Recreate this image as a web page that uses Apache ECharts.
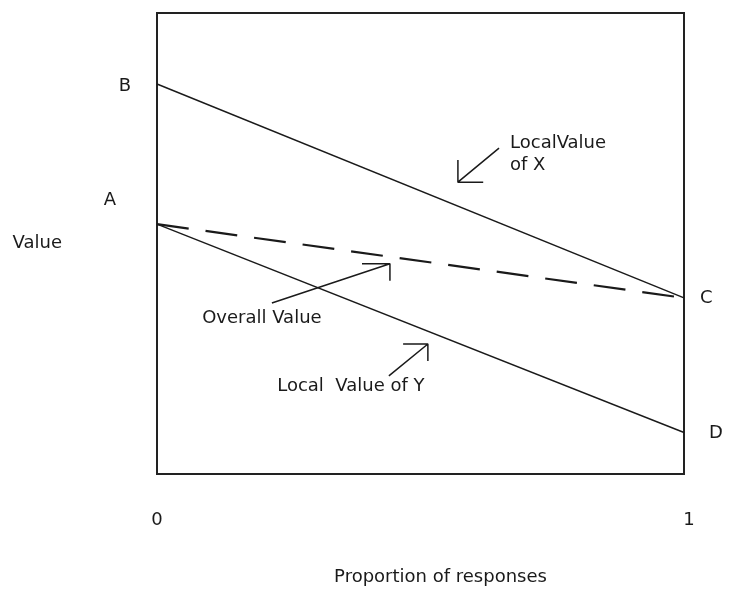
<!DOCTYPE html>
<html>
<head>
<meta charset="utf-8">
<script src="https://cdn.jsdelivr.net/npm/echarts@6/dist/echarts.min.js"></script>
<style>
  html, body { margin: 0; padding: 0; background: #fff; }
  #chart { width: 734px; height: 592px; }
</style>
</head>
<body>
<div id="chart"></div>
<script>
// proportion of responses (x) and value (y, 0-100)
const proportions = [0, 1];
const localValueX = [84.6, 38.2];   // B -> C
const localValueY = [54.2, 9.0];    // A -> D
const overallValue = [54.2, 38.2];  // A -> C
const pointNames = { xStart: "B", xEnd: "C", yStart: "A", yEnd: "D" };

// annotation arrows: shaft [tail, tip], head [side, tip, side]
const arrowXShaft = [[0.649, 70.7], [0.571, 63.3]];
const arrowXHead = [[0.571, 68.1], [0.571, 63.3], [0.619, 63.3]];
const arrowOverallShaft = [[0.218, 37.1], [0.442, 45.6]];
const arrowOverallHead = [[0.389, 45.6], [0.442, 45.6], [0.442, 41.9]];
const arrowYShaft = [[0.44, 21.3], [0.514, 28.2]];
const arrowYHead = [[0.467, 28.2], [0.514, 28.2], [0.514, 24.5]];
const arrowTexts = ["LocalValue\nof X", "Overall Value", "Local  Value of Y"];

const ink = "#1a1a1a";
const font = "DejaVu Sans";
const fontSize = 18;

const chart = echarts.init(document.getElementById("chart"));

function pointLabel(text, position, distance, offset) {
  return { show: true, formatter: text, position, distance, offset, color: ink, fontFamily: font, fontSize };
}

function arrowSeries(shaft, head, label) {
  const data = [
    { value: shaft[0], label },
    shaft[1],
    ["-", "-"],
    ...head
  ];
  return {
    type: "line",
    data,
    clip: false,
    symbol: "circle",
    symbolSize: 0,
    showSymbol: true,
    connectNulls: false,
    lineStyle: { color: ink, width: 1.5 },
    itemStyle: { color: ink },
    label: { show: false },
    silent: true
  };
}

chart.setOption({
  animation: false,
  textStyle: { fontFamily: font },
  grid: {
    left: 157, right: 50, top: 13, bottom: 118,
    show: true, borderColor: "#222", borderWidth: 2, backgroundColor: "#fff"
  },
  xAxis: {
    type: "value",
    min: 0, max: 1, interval: 1,
    name: "Proportion of responses",
    nameLocation: "middle",
    nameGap: 94,
    nameTextStyle: { color: ink, fontFamily: font, fontSize, padding: [0, 0, 0, 40] },
    axisLine: { show: false },
    axisTick: { show: false },
    splitLine: { show: false },
    axisLabel: {
      color: ink, fontFamily: font, fontSize, margin: 37,
      formatter: (v) => (v === 1 ? "{one|1}" : String(v)),
      rich: { one: { color: ink, fontFamily: font, fontSize, padding: [0, 0, 0, 10] } }
    }
  },
  yAxis: {
    type: "value",
    min: 0, max: 100,
    name: "Value",
    nameLocation: "middle",
    nameRotate: 0,
    nameGap: 95,
    nameTextStyle: { color: ink, fontFamily: font, fontSize },
    axisLine: { show: false },
    axisTick: { show: false },
    splitLine: { show: false },
    axisLabel: { show: false }
  },
  series: [
    {
      name: "Local Value of X",
      type: "line",
      clip: false,
      symbol: "circle", symbolSize: 0, showSymbol: true,
      lineStyle: { color: ink, width: 1.4 },
      itemStyle: { color: ink },
      data: [
        { value: [proportions[0], localValueX[0]], label: pointLabel(pointNames.xStart, "left", 26, [0, 2]) },
        { value: [proportions[1], localValueX[1]], label: pointLabel(pointNames.xEnd, "right", 16, [0, 0]) }
      ]
    },
    {
      name: "Local Value of Y",
      type: "line",
      clip: false,
      symbol: "circle", symbolSize: 0, showSymbol: true,
      lineStyle: { color: ink, width: 1.4 },
      itemStyle: { color: ink },
      data: [
        { value: [proportions[0], localValueY[0]], label: pointLabel(pointNames.yStart, "left", 41, [0, -24]) },
        { value: [proportions[1], localValueY[1]], label: pointLabel(pointNames.yEnd, "right", 25, [0, 1]) }
      ]
    },
    {
      name: "Overall Value",
      type: "line",
      clip: false,
      symbol: "none",
      lineStyle: { color: ink, width: 2.2, type: [32, 17] },
      data: proportions.map((p, i) => [p, overallValue[i]])
    },
    arrowSeries(arrowXShaft, arrowXHead,
      { show: true, formatter: arrowTexts[0], position: "right", distance: 11, offset: [0, 6],
        color: ink, fontFamily: font, fontSize, lineHeight: 22, align: "left" }),
    arrowSeries(arrowOverallShaft, arrowOverallHead,
      { show: true, formatter: arrowTexts[1], position: "bottom", distance: 6, offset: [-10, 0],
        color: ink, fontFamily: font, fontSize }),
    arrowSeries(arrowYShaft, arrowYHead,
      { show: true, formatter: arrowTexts[2], position: "bottom", distance: 2, offset: [-38, 0],
        color: ink, fontFamily: font, fontSize })
  ]
});
</script>
</body>
</html>
